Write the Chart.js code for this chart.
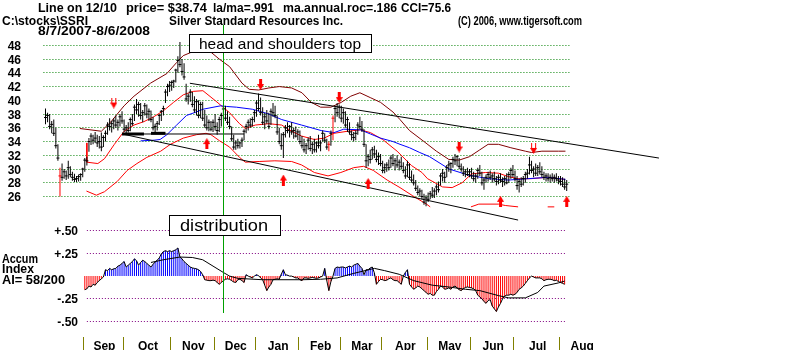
<!DOCTYPE html>
<html>
<head>
<meta charset="utf-8">
<title>SSRI daily chart</title>
<script src="https://cdn.jsdelivr.net/npm/chart.js@4.4.1/dist/chart.umd.min.js"></script>
<style>
  html, body { margin: 0; padding: 0; background: #ffffff; }
  canvas { display: block; }
</style>
</head>
<body>
<canvas id="chart" width="800" height="350"></canvas>
<script>
// ---- Daily prices, 8/7/2007 .. 8/6/2008 (trading-day index 0..252) ----
const highs = [
  38.8, 38.2, 38.0, 37.0, 37.2, 36.0, 33.6, 30.2, 30.8, 30.0,
  29.8, 31.2, 30.4, 29.6, 29.3, 29.0, 29.2, 29.4, 30.2, 31.6,
  31.8, 34.5, 35.2, 35.0, 35.4, 35.0, 34.8, 35.3, 34.9, 35.6,
  36.8, 37.4, 37.0, 37.4, 37.8, 37.2, 38.0, 38.4, 37.2, 36.4,
  36.8, 37.5, 38.0, 39.4, 40.2, 39.8, 39.6, 38.6, 39.6, 39.4,
  38.8, 38.5, 37.6, 36.6, 37.0, 38.0, 38.6, 39.2, 41.6, 42.4,
  42.8, 42.9, 43.0, 44.6, 46.4, 48.5, 46.0, 45.4, 42.4, 41.0,
  41.6, 41.2, 40.6, 40.2, 40.0, 39.8, 39.8, 38.6, 37.8, 37.2,
  37.0, 37.2, 38.0, 36.8, 37.6, 38.2, 39.0, 39.2, 38.4, 37.6,
  36.2, 35.0, 34.2, 34.4, 34.0, 34.6, 35.8, 36.6, 37.2, 37.4,
  37.6, 38.6, 40.0, 41.0, 40.4, 39.0, 38.2, 38.6, 38.2, 38.8,
  39.6, 39.2, 37.8, 36.0, 35.2, 35.4, 36.4, 36.8, 36.4, 36.8,
  36.0, 36.2, 35.8, 35.6, 34.8, 34.4, 33.8, 34.6, 34.8, 34.0,
  34.4, 34.0, 35.0, 34.2, 35.6, 35.2, 34.4, 34.0, 35.6, 37.8,
  39.2, 39.6, 39.4, 39.2, 38.8, 38.4, 37.6, 36.8, 35.6, 35.4,
  35.6, 36.8, 37.6, 37.0, 35.8, 33.6, 32.2, 32.8, 33.2, 33.4,
  32.8, 32.4, 32.2, 31.2, 30.8, 31.0, 31.4, 32.0, 32.2, 31.6,
  32.0, 31.4, 31.8, 31.0, 30.4, 31.2, 30.8, 29.8, 29.2, 28.4,
  27.6, 27.2, 27.0, 26.4, 26.2, 26.6, 26.8, 27.4, 27.2, 27.8,
  28.2, 29.4, 30.0, 29.6, 30.6, 31.2, 31.0, 31.8, 32.2, 32.0,
  31.6, 30.8, 30.4, 30.0, 30.2, 30.0, 30.2, 29.6, 29.4, 30.2,
  30.6, 29.6, 28.8, 29.2, 29.6, 29.8, 29.4, 29.6, 29.0, 29.2,
  29.4, 28.8, 29.0, 29.4, 29.6, 30.2, 30.6, 29.8, 29.0, 28.6,
  28.8, 29.0, 29.6, 30.0, 31.8, 31.2, 30.4, 30.8, 30.6, 31.0,
  30.4, 29.6, 29.4, 29.4, 29.2, 29.4, 29.2, 29.4, 29.0, 29.0,
  28.8, 28.6, 28.4
];
const lows = [
  36.5, 36.8, 35.8, 35.2, 34.8, 33.0, 31.2, 26.0, 28.3, 28.6,
  28.4, 28.6, 28.8, 28.3, 28.1, 28.1, 28.2, 28.3, 28.8, 29.6,
  30.5, 32.5, 33.5, 33.6, 33.8, 33.2, 33.0, 32.6, 33.2, 34.0,
  35.0, 35.6, 35.3, 35.8, 36.0, 35.6, 36.2, 36.6, 35.4, 35.2,
  35.3, 35.5, 36.3, 37.0, 38.0, 37.6, 37.2, 36.8, 37.8, 37.4,
  37.0, 36.8, 35.6, 35.2, 35.6, 36.4, 37.0, 37.8, 39.6, 40.6,
  41.2, 41.4, 41.8, 42.6, 44.0, 44.8, 43.6, 43.0, 39.8, 39.4,
  39.8, 39.0, 38.2, 37.8, 37.4, 37.4, 37.0, 36.0, 35.6, 35.5,
  35.5, 35.4, 35.6, 35.0, 35.4, 36.2, 37.2, 37.0, 36.4, 35.8,
  34.0, 32.8, 32.8, 33.0, 33.0, 33.2, 34.2, 35.2, 35.6, 36.0,
  36.2, 36.8, 37.6, 38.4, 37.8, 36.4, 35.8, 36.6, 35.8, 36.4,
  37.6, 37.4, 35.0, 33.6, 32.8, 31.6, 34.6, 35.2, 34.6, 35.0,
  34.4, 34.6, 34.2, 33.6, 33.0, 32.4, 32.2, 32.8, 32.6, 32.2,
  32.4, 32.4, 33.0, 32.6, 34.0, 33.8, 32.8, 32.6, 33.4, 34.2,
  36.8, 37.6, 37.4, 36.8, 36.6, 36.0, 35.4, 35.0, 34.2, 34.0,
  34.2, 35.0, 35.8, 35.4, 33.2, 30.2, 30.4, 30.8, 31.4, 31.6,
  31.0, 30.6, 30.4, 29.4, 29.4, 29.6, 29.8, 30.2, 30.4, 29.8,
  30.2, 29.8, 30.0, 29.4, 28.6, 28.8, 28.4, 28.0, 27.6, 26.8,
  26.2, 26.0, 25.6, 24.8, 24.6, 25.2, 25.6, 25.8, 25.8, 26.2,
  26.6, 27.6, 28.2, 28.0, 28.8, 29.6, 29.4, 30.2, 30.6, 30.4,
  30.0, 29.6, 29.0, 28.8, 29.0, 28.8, 28.6, 28.2, 28.0, 28.6,
  29.0, 27.6, 27.0, 28.0, 28.2, 28.4, 28.0, 28.2, 27.6, 27.8,
  28.0, 27.4, 27.6, 27.8, 28.0, 28.6, 28.8, 28.2, 27.0, 26.6,
  27.4, 27.6, 28.0, 28.6, 29.2, 29.4, 28.8, 29.0, 29.0, 29.2,
  28.8, 28.4, 28.2, 28.2, 28.0, 28.2, 28.0, 28.2, 27.8, 27.6,
  27.4, 27.0, 26.8
];
const closes = [
  37.5, 37.8, 36.2, 36.5, 35.2, 33.4, 31.6, 29.0, 28.8, 29.6,
  29.0, 30.2, 29.2, 28.8, 28.5, 28.6, 28.9, 29.2, 30.0, 31.3,
  31.2, 34.0, 34.8, 34.2, 34.5, 33.8, 34.0, 33.2, 34.6, 35.2,
  36.4, 36.2, 36.6, 37.0, 36.4, 36.8, 37.6, 37.0, 35.8, 36.0,
  35.6, 37.2, 36.6, 39.0, 38.6, 39.4, 37.8, 38.2, 39.2, 38.0,
  38.4, 37.2, 36.0, 36.2, 36.6, 37.8, 38.4, 38.8, 41.2, 42.0,
  42.2, 42.6, 42.8, 44.4, 45.8, 45.2, 44.2, 43.4, 40.2, 40.6,
  41.2, 39.4, 38.6, 39.8, 37.8, 39.4, 37.4, 36.4, 36.0, 36.8,
  35.8, 36.8, 36.2, 35.6, 37.2, 37.8, 38.74, 37.4, 36.8, 36.2,
  34.4, 33.2, 33.8, 33.4, 33.8, 34.2, 35.5, 36.2, 36.8, 36.4,
  37.2, 38.2, 39.6, 38.8, 38.2, 36.8, 37.6, 37.0, 36.2, 38.4,
  38.2, 37.8, 35.4, 34.0, 33.4, 35.0, 36.0, 35.6, 36.2, 35.4,
  35.6, 34.8, 35.4, 34.0, 33.4, 32.8, 33.4, 34.2, 33.0, 33.6,
  32.8, 33.8, 33.4, 33.8, 35.2, 34.2, 33.2, 33.6, 35.2, 37.4,
  38.8, 38.2, 39.0, 37.4, 38.2, 36.4, 37.2, 35.4, 35.0, 34.6,
  35.2, 36.4, 36.2, 35.8, 33.6, 31.2, 31.8, 31.4, 32.8, 32.2,
  31.4, 31.8, 30.8, 29.8, 30.2, 30.6, 30.2, 31.6, 30.8, 31.2,
  30.6, 31.0, 30.4, 29.8, 29.0, 30.6, 28.8, 28.4, 28.0, 27.2,
  26.6, 26.8, 26.0, 25.2, 25.8, 25.6, 26.4, 26.2, 26.8, 27.4,
  27.0, 29.0, 29.4, 28.8, 30.2, 30.6, 30.8, 31.4, 31.2, 31.8,
  30.4, 30.0, 29.4, 29.6, 29.2, 29.6, 29.0, 28.6, 29.0, 29.8,
  29.4, 28.0, 28.4, 28.8, 29.2, 28.8, 29.0, 28.6, 28.2, 28.8,
  28.4, 28.2, 28.6, 28.0, 29.2, 29.8, 29.2, 28.6, 27.6, 28.2,
  27.8, 28.6, 29.2, 29.4, 30.6, 29.8, 30.0, 29.4, 30.2, 29.6,
  29.2, 28.8, 29.0, 28.6, 28.8, 28.6, 28.8, 28.6, 28.4, 28.2,
  27.8, 27.4, 27.8
];
// days whose bar is painted red (8/16/2007 reversal, late-February signals)
const redBarDays = [7, 137, 139];

// ---- Bands and averages: [trading day, price] ----
const upperBand = [
  [16.6, 35.9], [27, 35.5], [31.7, 36.9], [38, 39.2], [42.8, 40.6], [50.8, 42.5],
  [58.7, 43.9], [63.4, 45.5], [66.6, 46.5], [71.4, 47.1], [76, 47.2], [80, 47.0],
  [84, 46.0], [89, 44.9], [95, 42.5], [98.5, 41.6], [103, 41.5], [108, 41.8],
  [113, 42.0], [119, 41.8], [124, 41.1], [128.5, 39.7], [133, 39.0], [138, 39.0],
  [143, 39.7], [147.6, 40.6], [152, 41.1], [157, 40.4], [162, 39.7], [168, 38.3],
  [171.4, 37.2], [176, 35.6], [183, 34.0], [189, 32.6], [195, 31.4], [200, 31.3],
  [205, 31.8], [210, 32.8], [214, 33.6], [219, 33.6], [225, 33.1], [232, 32.6],
  [235, 32.4], [240, 32.6], [248, 32.6], [251.4, 32.6]
];
const midAverage = [
  [20, 33.8], [20, 31.0], [25.3, 30.8], [28.5, 31.5], [33.3, 33.6], [38, 35.5],
  [42.8, 36.4], [47.6, 36.9], [52.3, 37.6], [57.1, 38.5], [61.9, 39.7], [66.6, 40.8],
  [71.4, 41.3], [76.1, 41.4], [82.3, 39.9], [89, 38.2], [93.8, 36.6], [96.6, 35.9],
  [101.4, 36.4], [108, 36.6], [114.2, 36.4], [119, 35.5], [123.8, 34.8], [130, 34.3],
  [134.7, 34.5], [139.5, 35.2], [146.1, 35.5], [152.3, 35.7], [157.1, 35.3],
  [163, 34.3], [170, 32.6], [177, 30.5], [182, 29.5], [184.7, 28.6], [192, 27.4],
  [196.6, 27.3], [201.4, 28.0], [206, 29.3], [212.8, 29.5], [219, 29.4], [223.8, 28.9],
  [228.5, 28.6], [234.7, 28.6], [242.8, 28.8], [251, 28.5]
];
const lowerBandA = [
  [19.8, 26.8], [24.6, 26.2], [28.5, 26.7], [34.7, 28.2], [39.5, 29.8], [44.2, 30.8],
  [49, 31.7], [55.7, 32.6], [60.4, 33.6], [66.6, 34.5], [73, 35.0], [77.6, 35.2],
  [80, 35.0], [84.2, 34.1], [89, 33.2], [93.8, 31.7], [96.6, 31.0], [103.3, 31.1],
  [110.9, 31.2], [119, 31.1], [123.8, 30.6], [130, 29.5], [136.6, 29.0], [142.8, 29.5],
  [149, 30.2], [153.8, 30.4], [158.5, 29.8], [165.2, 28.4], [171.4, 27.3],
  [177.6, 26.1], [184.2, 24.9], [186, 24.5]
];
const lowerBandB = [[205.7, 24.5], [209.5, 24.9], [219, 24.9], [222.3, 24.7], [228.5, 24.5]];
const lowerBandC = [[242.8, 24.5], [246, 24.5]];
const longAverage = [
  [46, 34.1], [52.5, 34.2], [55.4, 34.3], [58.7, 35.0], [63.4, 36.4], [68.2, 37.8],
  [72.9, 38.3], [76.1, 38.7], [84.7, 39.2], [87.6, 39.1], [92.3, 39.0], [100, 38.7],
  [104.7, 38.3], [108, 38.0], [114.2, 37.2], [123.8, 36.4], [133.3, 35.6], [139.5, 35.3],
  [144.2, 35.8], [152.3, 35.7], [157.1, 35.1], [162, 34.5], [168, 34.0], [171.4, 33.6],
  [176, 33.1], [181, 32.4], [185.7, 31.8], [195.2, 30.0], [204.7, 29.1], [214.2, 28.6],
  [223.8, 28.4], [233.3, 28.6], [242.8, 28.8], [251.4, 28.5]
];

// ---- Trendlines (head and shoulders pattern) ----
const resistanceLine = [[69.8, 42.48], [296.6, 31.6]];
const supportLine = [[37.1, 35.1], [228.5, 22.58]];
const neckLine = [[37, 35.1], [96, 35.1]];
const neckMarks = [[[37, 35.1], [47.6, 35.1]], [[51, 35.2], [58, 35.2]]];

// ---- Signal arrows: [trading day, price] ----
const sellArrows = [[104, 42.3], [142, 40.4], [200, 33.2]];
const sellArrowsDouble = [[33, 39.6], [236, 33.0]];
const buyArrows = [[78, 33.7], [115, 28.4], [156, 27.9], [220, 25.3], [252, 25.3]];

// ---- Accumulation index, from trading day 19 (9/4/2007) ----
const accumStart = 19;
const accumIndex = [
  -0.15, -0.14, -0.11, -0.12, -0.09, -0.10, -0.07, -0.05, -0.03, -0.01,
  0.07, 0.06, 0.085, 0.07, 0.08, 0.085, 0.11, 0.12, 0.14, 0.16,
  0.10, 0.12, 0.14, 0.16, 0.19, 0.17, 0.12, 0.15, 0.175, 0.16,
  0.14, 0.12, 0.10, 0.13, 0.155, 0.175, 0.20, 0.245, 0.27, 0.28,
  0.27, 0.28, 0.27, 0.28, 0.29, 0.31, 0.21, 0.19, 0.16, 0.14,
  0.12, 0.10, 0.09, 0.085, 0.08, 0.07, 0.05, 0.015, -0.04, -0.045,
  -0.05, -0.05, -0.045, -0.05, -0.07, -0.09, -0.07, -0.05, -0.035, -0.03,
  -0.035, -0.05, -0.065, -0.07, -0.04, -0.035, -0.05, -0.07, 0.015, 0.0,
  -0.01, -0.02, 0.0, 0.015, 0.005, -0.02, -0.04, -0.10, -0.16, -0.12,
  -0.09, -0.04, -0.035, -0.03, -0.035, 0.02, 0.07, 0.015, 0.01, 0.0,
  0.0, -0.01, -0.02, -0.02, -0.04, -0.05, -0.02, -0.02, -0.025, -0.02,
  -0.015, -0.02, -0.025, -0.02, -0.01, 0.0, 0.085, -0.05, -0.16, -0.06,
  0.0, 0.085, 0.10, 0.095, 0.10, 0.10, 0.09, 0.10, 0.11, 0.10,
  0.12, 0.13, 0.14, 0.11, 0.085, 0.015, 0.07, 0.07, 0.09, 0.10,
  0.035, -0.09, -0.06, -0.035, -0.04, -0.05, -0.045, -0.03, -0.02, -0.04,
  -0.05, -0.05, -0.07, -0.09, 0.0, 0.04, 0.07, -0.09, -0.12, -0.145,
  -0.13, -0.11, -0.12, -0.14, -0.16, -0.18, -0.20, -0.19, -0.21, -0.21,
  -0.17, -0.145, -0.11, -0.12, -0.145, -0.14, -0.13, -0.145, -0.12, -0.11,
  -0.13, -0.15, -0.16, -0.14, -0.125, -0.12, -0.125, -0.13, -0.14, -0.16,
  -0.21, -0.23, -0.25, -0.28, -0.30, -0.27, -0.26, -0.33, -0.36, -0.39,
  -0.34, -0.30, -0.25, -0.22, -0.21, -0.21, -0.20, -0.21, -0.20, -0.18,
  -0.145, -0.13, -0.11, -0.08, -0.05, -0.02, 0.0, -0.01, -0.02, -0.02,
  -0.02, -0.03, -0.05, -0.04, -0.035, -0.035, -0.04, -0.05, -0.045, -0.06,
  -0.07, -0.08, -0.09
];
const accumAverage = [
  [51, 0.15], [57, 0.18], [65, 0.21], [71, 0.205], [76, 0.18], [81, 0.11], [86, 0.04],
  [89, 0.0], [93, -0.025], [105, -0.04], [124, -0.04], [133, -0.035], [141, -0.02],
  [149, 0.03], [159, 0.085], [164, 0.06], [171, 0.02], [178, -0.05], [187, -0.10],
  [195, -0.12], [203, -0.145], [210, -0.16], [219, -0.215], [224, -0.24], [232, -0.24],
  [238, -0.18], [241, -0.11], [248, -0.075], [251, -0.055]
];

// ---- Axis labels ----
const priceTicks = [48, 46, 44, 42, 40, 38, 36, 34, 32, 30, 28, 26];
const accumTicks = [0.5, 0.25, -0.25, -0.5];
const accumTickLabels = ['+.50', '+.25', '-.25', '-.50'];
const monthNames = ['Sep', 'Oct', 'Nov', 'Dec', 'Jan', 'Feb', 'Mar', 'Apr', 'May', 'Jun', 'Jul', 'Aug'];
const monthStarts = [19, 38, 61, 82, 102, 123, 143, 163, 185, 206, 227, 249, 270];
const lineDay = 86;   // 12/10/2007

const RED = '#ff0000', BLUE = '#0000ff', MAROON = '#800000', BLACK = '#000000';
const FONT = '"Liberation Sans", Arial, sans-serif';

function arrowGlyph(up, double) {
  const c = document.createElement('canvas');
  c.width = 7; c.height = 11;
  const g = c.getContext('2d');
  g.fillStyle = RED;
  if (up) { g.translate(0, 11); g.scale(1, -1); }
  if (double) { g.fillRect(1, 0, 1, 6); g.fillRect(5, 0, 1, 6); }
  else { g.fillRect(2, 0, 3, 6); }
  g.beginPath(); g.moveTo(0, 5); g.lineTo(7, 5); g.lineTo(3.5, 11); g.closePath(); g.fill();
  return c;
}

const pts = arr => arr.map(([x, y]) => ({ x, y }));
function lineSet(points, color, width, order, axis) {
  return {
    type: 'line', data: pts(points), borderColor: color, borderWidth: width,
    pointRadius: 0, tension: 0, fill: false, order, yAxisID: axis || 'y'
  };
}
function arrowSet(points, glyph) {
  return {
    type: 'scatter', data: pts(points), pointStyle: glyph, pointRadius: 5,
    showLine: false, order: 0, yAxisID: 'y'
  };
}

// text drawn to a given width
function fitText(ctx, text, x, y, width) {
  const w = ctx.measureText(text).width;
  ctx.save();
  ctx.translate(x, y);
  if (width) ctx.scale(width / w, 1);
  ctx.fillText(text, 0, 0);
  ctx.restore();
}

const decor = {
  id: 'decor',
  beforeDatasetsDraw(chart) {
    const { ctx, scales: { x, y, y2 } } = chart;
    ctx.save();
    ctx.lineWidth = 1;
    ctx.setLineDash([1, 2]);
    // price grid
    ctx.strokeStyle = '#008000';
    const px0 = x.getPixelForValue(-1), px1 = x.getPixelForValue(253.3);
    priceTicks.forEach(t => {
      const py = Math.floor(y.getPixelForValue(t)) + 0.5;
      ctx.beginPath(); ctx.moveTo(px0, py); ctx.lineTo(px1, py); ctx.stroke();
    });
    // accumulation grid
    ctx.strokeStyle = '#800080';
    const ax0 = x.getPixelForValue(accumStart + 1), ax1 = x.getPixelForValue(251.4);
    accumTicks.forEach(t => {
      const py = Math.floor(y2.getPixelForValue(t)) + 0.5;
      ctx.beginPath(); ctx.moveTo(ax0, py); ctx.lineTo(ax1, py); ctx.stroke();
    });
    ctx.restore();
  },
  afterDatasetsDraw(chart) {
    const { ctx, scales: { x, y, y2 } } = chart;
    ctx.save();
    // 12/10 marker line
    const gx = Math.floor(x.getPixelForValue(lineDay)) + 0.5;
    ctx.strokeStyle = '#00a000'; ctx.lineWidth = 1;
    ctx.beginPath(); ctx.moveTo(gx, 25); ctx.lineTo(gx, 313); ctx.stroke();

    // annotation boxes
    ctx.fillStyle = '#ffffff'; ctx.strokeStyle = BLACK;
    ctx.fillRect(189.5, 34.5, 182, 18); ctx.strokeRect(189.5, 34.5, 182, 18);
    ctx.fillRect(169.5, 215.5, 111, 20); ctx.strokeRect(169.5, 215.5, 111, 20);
    ctx.fillStyle = BLACK;
    ctx.font = '15px ' + FONT;
    fitText(ctx, 'head and shoulders top', 199, 48.5, 162);
    ctx.font = '17px ' + FONT;
    fitText(ctx, 'distribution', 180, 231, 88);

    // header
    ctx.font = 'bold 12px ' + FONT;
    fitText(ctx, 'Line on 12/10', 38, 12, 79);
    fitText(ctx, 'price= $38.74', 126, 12, 81);
    fitText(ctx, 'la/ma=.991', 213, 12, 61);
    fitText(ctx, 'ma.annual.roc=.186', 283, 12, 114);
    fitText(ctx, 'CCI=75.6', 401, 12, 50);
    fitText(ctx, 'C:\\stocks\\SSRI', 2, 25, 86);
    fitText(ctx, 'Silver Standard Resources Inc.', 169, 25, 174);
    fitText(ctx, '(C) 2006, www.tigersoft.com', 458, 25, 124);
    fitText(ctx, '8/7/2007-8/6/2008', 38, 35, 112);

    // price axis labels
    ctx.textAlign = 'right';
    priceTicks.forEach(t => {
      ctx.fillText(String(t), 21, Math.floor(y.getPixelForValue(t)) + 5);
    });
    // accumulation axis labels
    accumTicks.forEach((t, i) => {
      ctx.fillText(accumTickLabels[i], 78, Math.floor(y2.getPixelForValue(t)) + 5);
    });
    ctx.textAlign = 'left';
    fitText(ctx, 'Accum', 2, 263, 36);
    fitText(ctx, 'Index', 2, 273, 32);
    fitText(ctx, 'AI= 58/200', 2, 284, 63);

    // month axis
    ctx.strokeStyle = '#808000';
    monthNames.forEach((m, i) => {
      const tx = Math.floor(x.getPixelForValue(monthStarts[i])) - 0.5;
      ctx.beginPath(); ctx.moveTo(tx, 337); ctx.lineTo(tx, 350); ctx.stroke();
      const cx = x.getPixelForValue((monthStarts[i] + monthStarts[i + 1]) / 2);
      ctx.textAlign = 'center';
      ctx.fillText(m, cx, 350);
    });
    ctx.restore();
  }
};

const barColor = c => redBarDays.includes(c.dataIndex) ? RED : BLACK;

new Chart(document.getElementById('chart'), {
  type: 'bar',
  data: {
    datasets: [
      // daily high-low bars
      {
        type: 'bar', data: highs.map((h, i) => ({ x: i, y: [lows[i], h] })),
        backgroundColor: barColor, barThickness: 1, inflateAmount: 0,
        grouped: false, order: 0, yAxisID: 'y'
      },
      // closing ticks
      {
        type: 'scatter', data: closes.map((v, i) => ({ x: i, y: v })),
        pointStyle: 'line', pointRadius: 1.5, borderWidth: 1,
        borderColor: barColor, pointBorderColor: barColor, showLine: false, order: 0, yAxisID: 'y'
      },
      arrowSet(sellArrows, arrowGlyph(false, false)),
      arrowSet(sellArrowsDouble, arrowGlyph(false, true)),
      arrowSet(buyArrows, arrowGlyph(true, false)),
      lineSet(upperBand, MAROON, 1, 6),
      lineSet(midAverage, RED, 1, 6),
      lineSet(lowerBandA, RED, 1, 6),
      lineSet(lowerBandB, RED, 1, 6),
      lineSet(lowerBandC, RED, 1, 6),
      lineSet(longAverage, BLUE, 1, 5),
      lineSet(resistanceLine, BLACK, 1, 4),
      lineSet(supportLine, BLACK, 1, 4),
      lineSet(neckLine, BLACK, 1, 4),
      lineSet(neckMarks[0], BLACK, 3, 4),
      lineSet(neckMarks[1], BLACK, 3, 4),
      // accumulation histogram
      {
        type: 'bar', data: accumIndex.map((v, i) => ({ x: accumStart + i, y: v })),
        backgroundColor: c => (c.raw && c.raw.y >= 0) ? BLUE : RED,
        barThickness: 1, inflateAmount: 0, grouped: false, order: 7, yAxisID: 'y2'
      },
      lineSet(accumIndex.map((v, i) => [accumStart + i, v]), BLACK, 1, 3, 'y2'),
      lineSet(accumAverage, BLACK, 1, 2, 'y2')
    ]
  },
  options: {
    responsive: false,
    animation: false,
    devicePixelRatio: 1,
    events: [],
    layout: { padding: 0 },
    plugins: { legend: { display: false }, tooltip: { enabled: false } },
    scales: {
      x: { type: 'linear', min: -19.1, max: 361.9, offset: false, display: false },
      y: { type: 'linear', min: 4.55, max: 53.72, display: false },
      y2: { type: 'linear', min: -0.748, max: 2.9755, display: false }
    }
  },
  plugins: [decor]
});
</script>
</body>
</html>
